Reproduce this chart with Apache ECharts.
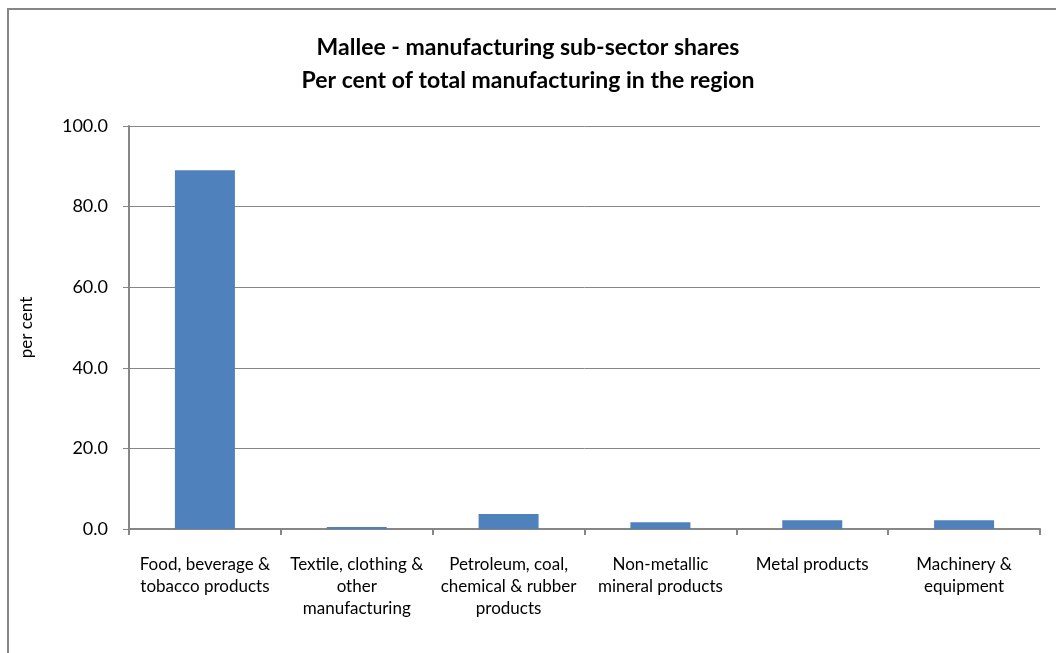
<!DOCTYPE html>
<html>
<head>
<meta charset="utf-8">
<script src="https://cdn.jsdelivr.net/npm/echarts@6/dist/echarts.min.js"></script>
<style>
  html, body { margin: 0; padding: 0; background: #fff; }
  #chart { width: 1056px; height: 653px; }
</style>
</head>
<body>
<div id="chart"></div>
<script>
// Manufacturing sub-sectors in the Mallee region
const categories = [
  'Food, beverage &\ntobacco products',
  'Textile, clothing &\nother\nmanufacturing',
  'Petroleum, coal,\nchemical & rubber\nproducts',
  'Non-metallic\nmineral products',
  'Metal products',
  'Machinery &\nequipment'
];
// Share of total regional manufacturing, per cent
const shares = [89.0, 0.5, 3.7, 1.7, 2.2, 2.2];
const yTicks = { min: 0, max: 100, interval: 20 };

const FONT = 'Lato, "Open Sans", sans-serif';
const GREY = '#868686';

const chart = echarts.init(document.getElementById('chart'), null, { renderer: 'canvas' });
chart.setOption({
  animation: false,
  backgroundColor: '#ffffff',
  graphic: [
    {
      type: 'polyline',
      shape: { points: [[8, 653], [8, 9], [1056, 9]] },
      style: { stroke: GREY, lineWidth: 2, fill: null },
      silent: true
    }
  ],
  title: {
    text: 'Mallee - manufacturing sub-sector shares\nPer cent of total manufacturing in the region',
    left: 'center',
    top: 26,
    textStyle: {
      fontFamily: FONT,
      fontSize: 23,
      fontWeight: 'bold',
      color: '#000',
      lineHeight: 33
    }
  },
  grid: { left: 129, right: 16, top: 126, bottom: 124, containLabel: false },
  xAxis: {
    type: 'category',
    data: categories,
    axisLine: { lineStyle: { color: GREY, width: 2 } },
    axisTick: { show: true, alignWithLabel: false, length: 6, lineStyle: { color: GREY, width: 2 } },
    axisLabel: {
      interval: 0,
      margin: 25,
      fontFamily: FONT,
      fontSize: 17,
      color: '#000',
      lineHeight: 22
    }
  },
  yAxis: {
    type: 'value',
    min: yTicks.min,
    max: yTicks.max,
    interval: yTicks.interval,
    name: 'per cent',
    nameLocation: 'middle',
    nameRotate: 90,
    nameGap: 94,
    nameTextStyle: { fontFamily: FONT, fontSize: 17, color: '#000' },
    axisLine: { show: true, lineStyle: { color: GREY, width: 2 } },
    axisTick: { show: true, length: 6, lineStyle: { color: GREY, width: 1 } },
    splitLine: { show: true, lineStyle: { color: GREY, width: 1 } },
    axisLabel: {
      margin: 21,
      fontFamily: FONT,
      fontSize: 18,
      color: '#000',
      formatter: v => v.toFixed(1)
    }
  },
  series: [
    {
      type: 'bar',
      data: shares,
      barWidth: 60,
      itemStyle: { color: '#4F81BD' }
    }
  ]
});
</script>
</body>
</html>
